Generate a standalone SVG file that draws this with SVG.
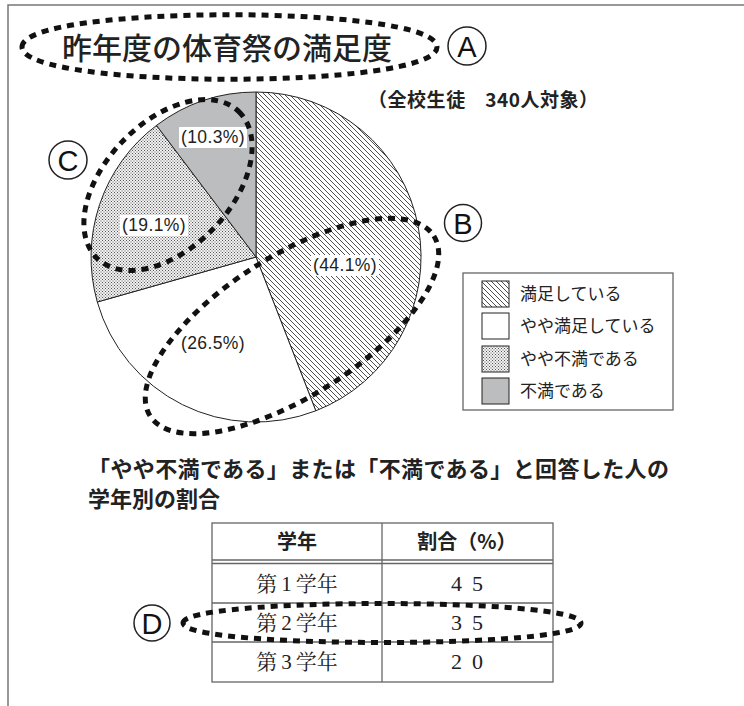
<svg xmlns="http://www.w3.org/2000/svg" width="744" height="706" viewBox="0 0 744 706">
<style>
.jp{font-family:"Noto Sans CJK JP","Noto Sans",sans-serif;fill:#222}
.num{font-family:"Liberation Sans",Arial,sans-serif;fill:#222;font-size:17.5px;text-anchor:middle;letter-spacing:0.4px}
.ser{font-family:"Liberation Serif","Noto Serif CJK JP","Noto Sans CJK JP",serif;fill:#222}
.dash{fill:none;stroke:#111;stroke-width:5;stroke-dasharray:7 6}
.slice{stroke:#222;stroke-width:1}
.ring{fill:#fff;stroke:#222;stroke-width:1.5}
.tbl{stroke:#666;stroke-width:1.3;fill:none}
.lbl{font-family:"Liberation Sans",Arial,sans-serif;font-size:29px;fill:#111;text-anchor:middle}
</style>
<defs>
<pattern id="hatch" patternUnits="userSpaceOnUse" width="5" height="5">
<rect width="5" height="5" fill="#fff"/>
<path d="M-1,4 L1,6 M0,0 L5,5 M4,-1 L6,1" stroke="#222" stroke-width="0.8"/>
</pattern>
<pattern id="dots" patternUnits="userSpaceOnUse" width="3" height="3">
<rect width="3" height="3" fill="#f2f2f2"/>
<rect x="0" y="0" width="1" height="1" fill="#555"/>
<rect x="1.5" y="1.5" width="1" height="1" fill="#555"/>
</pattern>
</defs>
<rect width="744" height="706" fill="#fff"/>
<g id="frame"><path d="M8,706 V5 H744" fill="none" stroke="#777" stroke-width="1.5"/></g>

<g id="title"><text class="jp" x="62" y="59" font-size="30" font-weight="500">昨年度の体育祭の満足度</text></g>
<g id="subtitle"><text class="jp" x="368" y="107" font-size="19" font-weight="bold" textLength="230">（全校生徒　340人対象）</text></g>

<g id="pie">
<path class="slice" fill="url(#hatch)" d="M256,257 L256,92 A165,165 0 0 1 315.8,410.8 Z"/>
<path class="slice" fill="#fff" d="M256,257 L315.8,410.8 A165,165 0 0 1 97.3,302 Z"/>
<path class="slice" fill="url(#dots)" d="M256,257 L97.3,302 A165,165 0 0 1 156.5,125.4 Z"/>
<path class="slice" fill="#bcbdbf" d="M256,257 L156.5,125.4 A165,165 0 0 1 256,92 Z"/>
<rect x="179" y="127" width="68" height="21" fill="#fff"/>
<text class="num" x="213" y="143">(10.3%)</text>
<rect x="120" y="215" width="68" height="21" fill="#fff"/>
<text class="num" x="154" y="231">(19.1%)</text>
<rect x="311" y="255" width="68" height="21" fill="#fff"/>
<text class="num" x="345" y="271">(44.1%)</text>
<text class="num" x="213" y="349">(26.5%)</text>
</g>

<g id="legend">
<rect x="463" y="273" width="210" height="137" fill="#fff" stroke="#666" stroke-width="1.3"/>
<rect x="482" y="281" width="27" height="26" fill="url(#hatch)" stroke="#222" stroke-width="1"/>
<rect x="482" y="313" width="27" height="26" fill="#fff" stroke="#222" stroke-width="1"/>
<rect x="482" y="346" width="27" height="26" fill="url(#dots)" stroke="#222" stroke-width="1"/>
<rect x="482" y="378" width="27" height="26" fill="#bcbdbf" stroke="#222" stroke-width="1"/>
<text class="jp" x="520" y="300" font-size="17">満足している</text>
<text class="jp" x="520" y="332" font-size="17">やや満足している</text>
<text class="jp" x="520" y="365" font-size="17">やや不満である</text>
<text class="jp" x="520" y="397" font-size="17">不満である</text>
</g>

<g id="caption">
<text class="jp" x="88" y="477" font-size="22" font-weight="bold" textLength="581">「やや不満である」または「不満である」と回答した人の</text>
<text class="jp" x="88" y="507" font-size="22" font-weight="bold">学年別の割合</text>
</g>

<g id="table">
<rect class="tbl" x="212" y="523" width="341" height="159"/>
<line class="tbl" x1="382" y1="523" x2="382" y2="682"/>
<line class="tbl" x1="212" y1="560" x2="553" y2="560"/>
<line class="tbl" x1="212" y1="563.5" x2="553" y2="563.5"/>
<line class="tbl" x1="212" y1="603" x2="553" y2="603"/>
<line class="tbl" x1="212" y1="642" x2="553" y2="642"/>
<text class="jp" x="297" y="549" font-size="20" font-weight="bold" text-anchor="middle">学年</text>
<text class="jp" x="467" y="549" font-size="20" font-weight="bold" text-anchor="middle">割合（%）</text>
<text class="ser" x="297" y="591" font-size="21" text-anchor="middle">第<tspan dx="4">1</tspan><tspan dx="4">学年</tspan></text>
<text class="ser" x="297" y="630" font-size="21" text-anchor="middle">第<tspan dx="4">2</tspan><tspan dx="4">学年</tspan></text>
<text class="ser" x="297" y="669" font-size="21" text-anchor="middle">第<tspan dx="4">3</tspan><tspan dx="4">学年</tspan></text>
<text class="ser" x="472" y="591" font-size="22" text-anchor="middle" letter-spacing="10">45</text>
<text class="ser" x="472" y="630" font-size="22" text-anchor="middle" letter-spacing="10">35</text>
<text class="ser" x="472" y="669" font-size="22" text-anchor="middle" letter-spacing="10">20</text>
</g>

<g id="markA"><circle class="ring" cx="467" cy="46" r="19"/><text class="lbl" x="467" y="56.5">A</text></g>
<g id="markB"><circle class="ring" cx="463" cy="223" r="18.5"/><text class="lbl" x="463" y="233.5">B</text></g>
<g id="markC"><circle class="ring" cx="68" cy="160" r="19"/><text class="lbl" x="68" y="170.5">C</text></g>
<g id="markD"><circle class="ring" cx="152" cy="623" r="18"/><text class="lbl" x="152" y="633.5">D</text></g>

<g id="connectors">
<path class="dash" d="M22,47 C22,4 437,4 437,47 C437,90 22,90 22,47 Z"/>
<ellipse class="dash" cx="292" cy="326" rx="168" ry="70" transform="rotate(-32.4 292 326)"/>
<ellipse class="dash" cx="168" cy="185" rx="102" ry="63" transform="rotate(-46 168 185)"/>
<path class="dash" d="M183,623 C183,597 581,597 581,623 C581,649 183,649 183,623 Z"/>
</g>
</svg>
